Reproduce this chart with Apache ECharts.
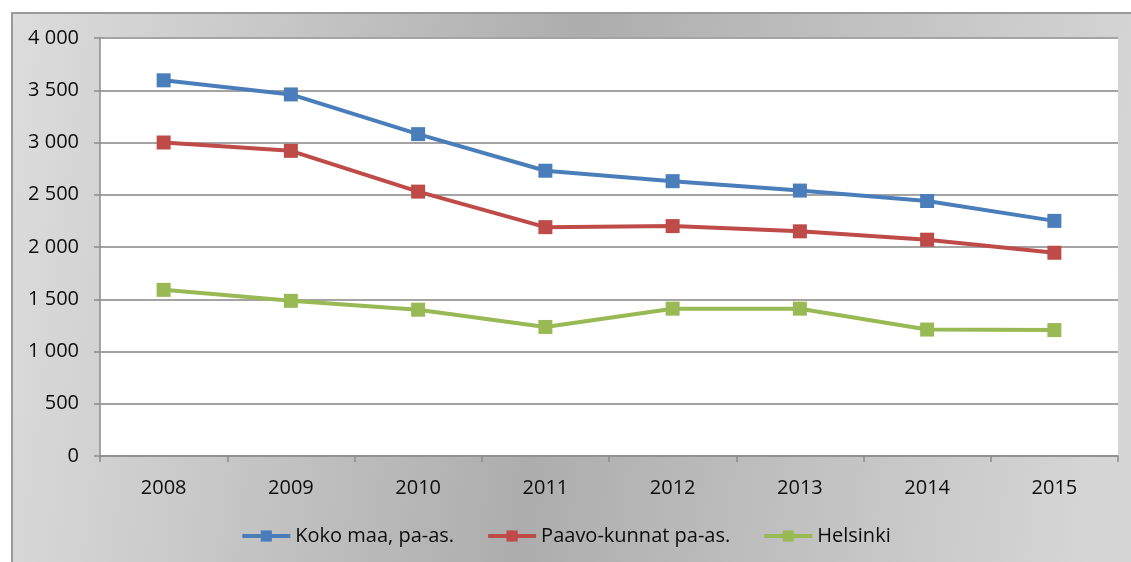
<!DOCTYPE html>
<html>
<head>
<meta charset="utf-8">
<script src="https://cdn.jsdelivr.net/npm/echarts@6/dist/echarts.min.js"></script>
<style>
  html, body { margin: 0; padding: 0; background: #fff; overflow: hidden; }
  #main { width: 1131px; height: 562px; }
</style>
</head>
<body>
<div id="main"></div>
<script>
// vuodet ja sarjat
const years = ['2008', '2009', '2010', '2011', '2012', '2013', '2014', '2015'];
const kokoMaa = [3595, 3460, 3080, 2730, 2630, 2540, 2440, 2250];
const paavoKunnat = [3000, 2920, 2530, 2190, 2200, 2150, 2070, 1945];
const helsinki = [1590, 1485, 1400, 1235, 1410, 1410, 1210, 1205];

const textFont = 'Open Sans';
const textColor = '#0d0d0d';
const textSize = 20;

const chart = echarts.init(document.getElementById('main'));

function lineSeries(name, data, color) {
  return {
    name: name,
    type: 'line',
    data: data,
    symbol: 'rect',
    symbolSize: 14,
    lineStyle: { width: 4, color: color },
    itemStyle: { color: color },
    emphasis: { disabled: true },
    z: 3
  };
}

const option = {
  animation: false,
  graphic: [
    {
      type: 'rect',
      left: 11,
      top: 12,
      shape: { width: 1130, height: 560 },
      style: {
        fill: new echarts.graphic.LinearGradient(0, 0, 1, 0.25, [
          { offset: 0, color: '#dddddd' },
          { offset: 0.5, color: '#adadad' },
          { offset: 1, color: '#d6d6d6' }
        ]),
        stroke: '#9a9a9a',
        lineWidth: 2
      },
      z: -10,
      silent: true
    }
  ],
  grid: {
    left: 100,
    top: 38,
    right: 13,
    bottom: 106,
    show: true,
    backgroundColor: '#fff',
    borderWidth: 0
  },
  legend: {
    bottom: 11,
    left: 'center',
    itemWidth: 48,
    itemHeight: 14,
    itemGap: 32,
    lineStyle: { width: 4 },
    textStyle: { fontFamily: textFont, fontSize: textSize, fontWeight: 500, color: textColor },
    data: ['Koko maa, pa-as.', 'Paavo-kunnat pa-as.', 'Helsinki']
  },
  xAxis: {
    type: 'category',
    data: years,
    boundaryGap: true,
    axisLine: { lineStyle: { color: '#8c8c8c', width: 1.5 } },
    axisTick: { show: true, length: 6, lineStyle: { color: '#8c8c8c', width: 1.5 } },
    axisLabel: { margin: 22, fontFamily: textFont, fontSize: textSize, fontWeight: 500, color: textColor }
  },
  yAxis: {
    type: 'value',
    min: 0,
    max: 4000,
    interval: 500,
    axisLine: { show: true, lineStyle: { color: '#8c8c8c', width: 1.5 } },
    axisTick: { show: true, length: 6, lineStyle: { color: '#8c8c8c', width: 1.5 } },
    splitLine: { lineStyle: { color: '#a4a4a4', width: 2 } },
    axisLabel: {
      margin: 21,
      fontFamily: textFont,
      fontSize: textSize,
      fontWeight: 500,
      color: textColor,
      formatter: v => v >= 1000 ? Math.floor(v / 1000) + ' ' + String(v % 1000).padStart(3, '0') : String(v)
    }
  },
  series: [
    lineSeries('Koko maa, pa-as.', kokoMaa, '#4a7ebb'),
    lineSeries('Paavo-kunnat pa-as.', paavoKunnat, '#be4b48'),
    lineSeries('Helsinki', helsinki, '#98b954')
  ]
};

chart.setOption(option);
</script>
</body>
</html>
